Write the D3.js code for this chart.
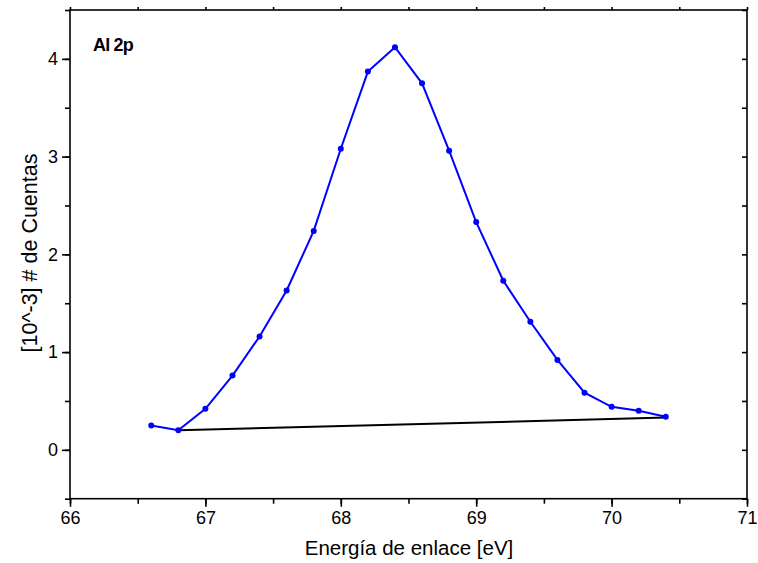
<!DOCTYPE html>
<html><head><meta charset="utf-8">
<script src="https://cdn.jsdelivr.net/npm/d3@7"></script>
<style>body{margin:0;background:#fff}svg text{font-family:Arial,"Liberation Sans",sans-serif}</style>
</head><body><svg id="c" width="758" height="563"></svg>
<script>
const energy = [66.6,66.8,67.0,67.2,67.4,67.6,67.8,68.0,68.2,68.4,68.6,68.8,69.0,69.2,69.4,69.6,69.8,70.0,70.2,70.4];
const counts = [0.25,0.20,0.42,0.76,1.16,1.63,2.24,3.08,3.87,4.12,3.75,3.06,2.33,1.73,1.31,0.92,0.585,0.44,0.40,0.338];
const baseX = [66.8,70.4];
const baseY = [0.20,0.33];
const xTicks = [66,67,68,69,70,71];
const yTicks = [0,1,2,3,4];

const svg = d3.select("#c");
const L=70,R=747,T=10,B=498.7;
const x = d3.scaleLinear().domain([66,71]).range([L,R]);
const y = d3.scaleLinear().domain([-0.5,4.5]).range([B,T]);

svg.append("rect").attr("x",L).attr("y",T).attr("width",R-L).attr("height",B-T)
  .attr("fill","none").attr("stroke","#000").attr("stroke-width",1.6);

const xMinor = d3.range(66,71.01,0.5);
const yMinor = d3.range(-0.5,4.51,0.5);
const gb = svg.append("g").attr("transform",`translate(0,${B})`);
gb.call(d3.axisBottom(x).tickValues(xMinor).tickSize(5).tickFormat(""));
gb.select(".domain").remove();
const gb2 = svg.append("g").attr("transform",`translate(0,${B})`);
gb2.call(d3.axisBottom(x).tickValues(xTicks).tickSize(8).tickPadding(5).tickFormat(d3.format("d")));
gb2.select(".domain").remove();
const gt = svg.append("g").attr("transform",`translate(0,${T})`);
gt.call(d3.axisTop(x).tickValues(xMinor).tickSize(3).tickFormat(""));
gt.select(".domain").remove();
const gl = svg.append("g").attr("transform",`translate(${L},0)`);
gl.call(d3.axisLeft(y).tickValues(yMinor).tickSize(5).tickFormat(""));
gl.select(".domain").remove();
const gl2 = svg.append("g").attr("transform",`translate(${L},0)`);
gl2.call(d3.axisLeft(y).tickValues(yTicks).tickSize(8).tickPadding(4).tickFormat(d3.format("d")));
gl2.select(".domain").remove();
const gr = svg.append("g").attr("transform",`translate(${R},0)`);
gr.call(d3.axisLeft(y).tickValues(yMinor).tickSize(5).tickFormat(""));
gr.select(".domain").remove();

svg.selectAll(".tick line").attr("stroke","#000").attr("stroke-width",1.6);
svg.selectAll(".tick text").attr("font-size",18).attr("fill","#000");

svg.append("path").datum(baseX.map((d,i)=>[d,baseY[i]]))
  .attr("d",d3.line().x(d=>x(d[0])).y(d=>y(d[1])))
  .attr("fill","none").attr("stroke","#000").attr("stroke-width",2);

const pts = energy.map((d,i)=>[d,counts[i]]);
svg.append("path").datum(pts)
  .attr("d",d3.line().x(d=>x(d[0])).y(d=>y(d[1])))
  .attr("fill","none").attr("stroke","#0000ff").attr("stroke-width",2);
svg.selectAll("circle.p").data(pts).enter().append("circle").attr("class","p")
  .attr("cx",d=>x(d[0])).attr("cy",d=>y(d[1])).attr("r",3).attr("fill","#0000ff");

svg.append("text").attr("x",93).attr("y",51).attr("font-size",18).attr("font-weight","bold")
  .attr("letter-spacing","-0.8").text("Al 2p");
svg.append("text").attr("x",409).attr("y",555).attr("text-anchor","middle").attr("font-size",20.5).text("Energía de enlace [eV]");
svg.append("text").attr("transform",`translate(37,253) rotate(-90)`).attr("text-anchor","middle").attr("font-size",21.5).text("[10^-3] # de Cuentas");
</script></body></html>
